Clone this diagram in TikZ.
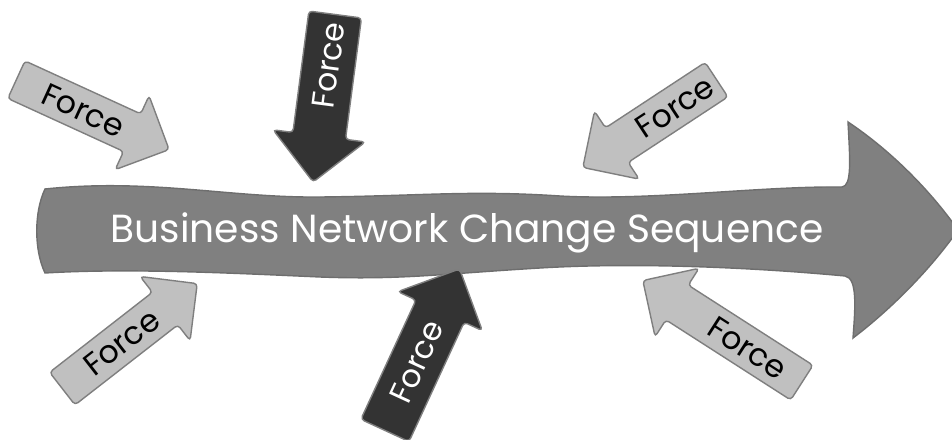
\documentclass[tikz,border=0pt]{standalone}
\usepackage{fontspec}
\newfontfamily\gothic{Poppins}
\usetikzlibrary{shapes.arrows}
\definecolor{seqgray}{HTML}{808080}
\definecolor{seqedge}{HTML}{6E6E6E}
\definecolor{lightforce}{HTML}{C0C0C0}
\definecolor{darkforce}{HTML}{333333}
\definecolor{forceedge}{HTML}{7F7F7F}
\tikzset{
  force/.style={single arrow, draw=forceedge, line width=0.8pt, inner xsep=2pt, inner ysep=0pt,
    rounded corners=2pt, single arrow head extend=0.4cm, font=\gothic\fontsize{18}{20}\selectfont, anchor=tip},
  lightarrow/.style={force, fill=lightforce, text=black, text height=17.6pt, text depth=5.1pt},
  darkarrow/.style={force, fill=darkforce, text=white, text height=21pt, text depth=8.4pt},
  back/.style={shape border rotate=180}
}
\begin{document}
\begin{tikzpicture}[x=0.02cm,y=-0.02cm]
\useasboundingbox (0,0) rectangle (952,439);

%Main arrow
\draw [fill=seqgray, draw=seqedge, line width=0.8pt]
  (45,189) .. controls (150,178) and (230,198) .. (320,197)
  .. controls (420,196) and (470,190) .. (560,196)
  .. controls (650,201) and (760,186) .. (842,187)
  .. controls (852,186) and (850,160) .. (848,122)
  .. controls (890,150) and (930,190) .. (958,230)
  .. controls (930,270) and (890,310) .. (853,338)
  .. controls (855,310) and (858,278) .. (845,276)
  .. controls (760,268) and (640,262) .. (540,268)
  .. controls (440,274) and (400,280) .. (320,277)
  .. controls (230,273) and (130,268) .. (45,273)
  .. controls (34,250) and (34,212) .. cycle;
\node [anchor=base, text=white, font=\gothic\fontsize{22.3}{26}\selectfont] (seq) at (467,242)
  {Business Network Change Sequence};

%Forces above
\node [lightarrow, rotate=-24.6, minimum height=3.36cm] (upleft) at (170,150) {Force\hspace{0.8cm}};
\node [darkarrow, back, rotate=82.5, minimum height=3.38cm] (upmid) at (313,183) {\hspace{0.8cm}Force};
\node [lightarrow, back, rotate=33.3, minimum height=3.2cm] (upright) at (582,168) {\hspace{0.8cm}Force};

%Forces below
\node [lightarrow, rotate=37.9, minimum height=3.42cm] (lowleft) at (198,283) {Force\hspace{0.8cm}};
\node [darkarrow, rotate=65.2, minimum height=3.56cm] (lowmid) at (460,268) {Force\hspace{0.8cm}};
\node [lightarrow, back, rotate=-32.7, minimum height=3.78cm] (lowright) at (642,280) {\hspace{0.8cm}Force};
\end{tikzpicture}
\end{document}
